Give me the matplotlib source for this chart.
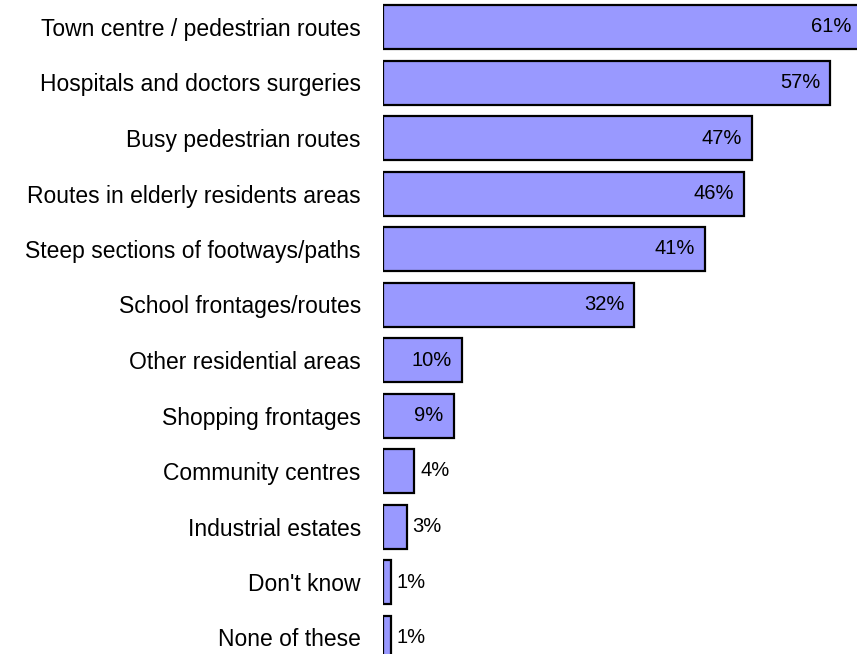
import matplotlib
matplotlib.use('Agg')
import matplotlib.pyplot as plt

#--------------------------------------------------------------
# Data
categories = ['Town centre / pedestrian routes',
              'Hospitals and doctors surgeries',
              'Busy pedestrian routes',
              'Routes in elderly residents areas',
              'Steep sections of footways/paths',
              'School frontages/routes',
              'Other residential areas',
              'Shopping frontages',
              'Community centres',
              'Industrial estates',
              "Don't know",
              'None of these']
values = [61, 57, 47, 46, 41, 32, 10, 9, 4, 3, 1, 1]

#--------------------------------------------------------------
plt.rcParams['font.family'] = ['Liberation Sans', 'DejaVu Sans']

W, H = 857, 654
fig = plt.figure(figsize=(W/100, H/100), dpi=100)

x0    = 383      # left edge of bars (px)
pxper = 7.85     # px per percent
step  = 55.5     # px between bar centres
top   = 27       # centre of first bar (px from top)

ax = fig.add_axes([x0/W, 0, (W-x0)/W, 1])
ax.set_xlim(0, (W-x0)/pxper)
ax.set_ylim((H-top)/step, -top/step)

pos = list(range(len(categories)))
ax.barh(pos, values, height=44/step, color='#9999FF',
        edgecolor='black', linewidth=1.6)

# value labels: inside the bar for the long ones, outside for the short ones
for p, v in zip(pos, values):
    if v >= 9:
        ax.text(v - 10/pxper, p, f'{v}%', ha='right', va='center', fontsize=14.5)
    else:
        ax.text(v + 6/pxper, p, f'{v}%', ha='left', va='center', fontsize=14.5)

ax.set_yticks(pos)
ax.set_yticklabels(categories, fontsize=16.5)
ax.tick_params(axis='y', length=0, pad=16)
ax.set_xticks([])
for s in ax.spines.values():
    s.set_visible(False)

plt.savefig('out.png', dpi=100)
